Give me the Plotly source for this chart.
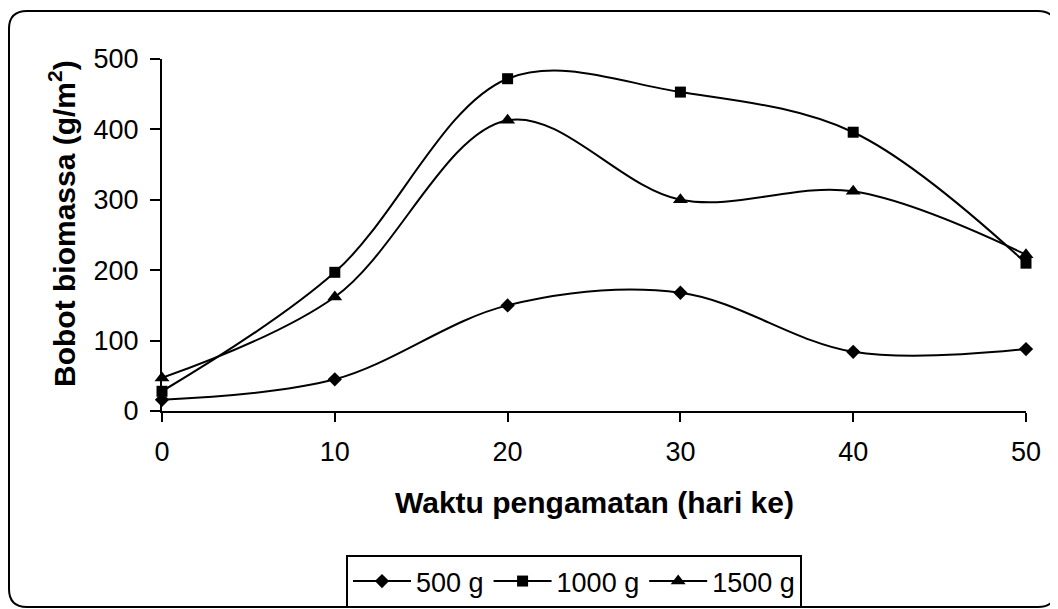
import plotly.graph_objects as go

days = [0, 10, 20, 30, 40, 50]
s500 = [16, 45, 150, 168, 84, 88]
s1000 = [28, 197, 472, 453, 396, 210]
s1500 = [47, 162, 413, 300, 312, 222]
series_names = ["500 g", "1000 g", "1500 g"]
x_ticks = [0, 10, 20, 30, 40, 50]
y_ticks = [0, 100, 200, 300, 400, 500]

# page offset of the figure inside the browser (body margin)
OFF = 8
W, H = 1050, 601
L, T = 162 - OFF, 59 - OFF
R = W - (1026 - OFF)
B = H - (411 - OFF)
PW, PH = W - L - R, H - T - B

FONT = "Liberation Sans, Arial, sans-serif"


def px2paper(sx, sy):
    fx, fy = sx - OFF, sy - OFF
    return (fx - L) / PW, (H - B - fy) / PH


fig = go.Figure()
for name, vals, sym, sz in [
    (series_names[0], s500, "diamond", 11),
    (series_names[1], s1000, "square", 11),
    (series_names[2], s1500, "triangle-up", 13),
]:
    fig.add_trace(go.Scatter(
        x=days, y=vals, name=name, mode="lines+markers",
        line=dict(color="black", width=2, shape="spline", smoothing=1.0),
        marker=dict(symbol=sym, size=sz, color="black"),
        cliponaxis=False,
    ))

# rounded chart border (screen coordinates)
x0, y0, x1, y1, r = 9, 11, 1056, 607, 18


def P(sx, sy):
    a, b = px2paper(sx, sy)
    return f"{a:.5f},{b:.5f}"


path = (f"M {P(x0 + r, y0)} L {P(x1 - r, y0)} Q {P(x1, y0)} {P(x1, y0 + r)} "
        f"L {P(x1, y1 - r)} Q {P(x1, y1)} {P(x1 - r, y1)} "
        f"L {P(x0 + r, y1)} Q {P(x0, y1)} {P(x0, y1 - r)} "
        f"L {P(x0, y0 + r)} Q {P(x0, y0)} {P(x0 + r, y0)} Z")
fig.add_shape(type="path", xref="paper", yref="paper", path=path,
              line=dict(color="black", width=2), layer="below")

lx, ly = px2paper(574, 555)

fig.update_layout(
    width=W, height=H,
    margin=dict(l=L, r=R, t=T, b=B, autoexpand=False),
    paper_bgcolor="white", plot_bgcolor="white",
    font=dict(family=FONT, size=27, color="black"),
    showlegend=True,
    legend=dict(
        orientation="h", x=lx, xanchor="center", y=ly, yanchor="top",
        bordercolor="black", borderwidth=2, bgcolor="white",
        font=dict(family=FONT, size=27, color="black"),
        itemwidth=58, tracegroupgap=0,
    ),
    xaxis=dict(
        range=[0, 50], tickvals=x_ticks, ticktext=[str(v) for v in x_ticks],
        showline=True, linecolor="black", linewidth=2,
        ticks="outside", ticklen=9, tickwidth=2, tickcolor="black",
        showgrid=False, zeroline=False, ticklabelstandoff=7,
        automargin=False,
    ),
    yaxis=dict(
        range=[0, 500], tickvals=y_ticks, ticktext=[str(v) for v in y_ticks],
        showline=True, linecolor="black", linewidth=2,
        ticks="outside", ticklen=10, tickwidth=2, tickcolor="black",
        showgrid=False, zeroline=False, ticklabelstandoff=6,
        automargin=False,
    ),
    annotations=[
        dict(text="<b>Waktu pengamatan (hari ke)</b>", xref="paper", yref="paper",
             x=0.5, y=px2paper(0, 502)[1], xanchor="center", yanchor="middle",
             showarrow=False, font=dict(family=FONT, size=30, color="black")),
        dict(text="<b>Bobot biomassa (g/m<sup>2</sup>)</b>", xref="paper", yref="paper",
             x=px2paper(62, 0)[0], y=px2paper(0, 224)[1], xanchor="center", yanchor="middle",
             textangle=-90, showarrow=False,
             font=dict(family=FONT, size=30, color="black")),
    ],
)

fig.write_html("out.html")
